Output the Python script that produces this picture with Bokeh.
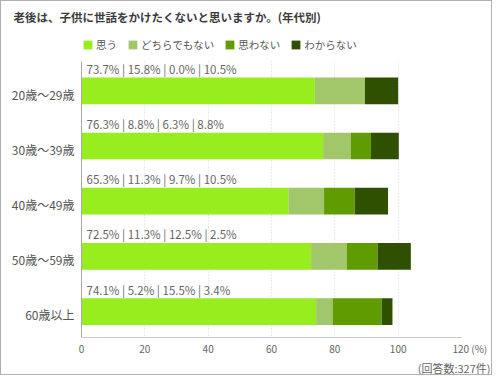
from bokeh.plotting import figure
from bokeh.models import ColumnDataSource, Range1d, FixedTicker, Legend, LegendItem, Title
from bokeh.core.properties import value
from bokeh.embed import file_html
from bokeh.resources import INLINE

# ---- data ----
title_text = "老後は、子供に世話をかけたくないと思いますか。(年代別)"
note_text = "(回答数:327件)"
unit_text = "(%)"
categories = ["20歳〜29歳", "30歳〜39歳", "40歳〜49歳", "50歳〜59歳", "60歳以上"]
series_names = ["思う", "どちらでもない", "思わない", "わからない"]
omou = [73.7, 76.3, 65.3, 72.5, 74.1]
dochira = [15.8, 8.8, 11.3, 11.3, 5.2]
omowanai = [0.0, 6.3, 9.7, 9.7, 15.5]
wakaranai = [10.5, 8.8, 10.5, 10.5, 3.4]
printed_labels = [
    "73.7% | 15.8% | 0.0% | 10.5%",
    "76.3% | 8.8% | 6.3% | 8.8%",
    "65.3% | 11.3% | 9.7% | 10.5%",
    "72.5% | 11.3% | 12.5% | 2.5%",
    "74.1% | 5.2% | 15.5% | 3.4%",
]
x_ticks = [0, 20, 40, 60, 80, 100, 120]
colors = ["#97ED1E", "#A2C66A", "#5E9C00", "#2F5000"]

FONT = "Noto Sans CJK JP"

# ---- layout (pixels, inside a 1px border) ----
W, H = 490, 367
FRAME_L, FRAME_W = 80, 380
FRAME_T, FRAME_B = 30, 335
CHART_T = 59
PX_PER_Y = 55.2
Y_TOP = -0.531                       # data value at the top of the bar area
Y_BOT = Y_TOP + (FRAME_B - CHART_T) / PX_PER_Y
Y_FRAME_TOP = Y_TOP - (CHART_T - FRAME_T) / PX_PER_Y

ypos = list(range(len(categories)))
series = [omou, dochira, omowanai, wakaranai]
lefts, rights = [], []
acc = [0.0] * len(categories)
for s in series:
    lefts.append(list(acc))
    acc = [a + v for a, v in zip(acc, s)]
    rights.append(list(acc))

p = figure(
    frame_width=FRAME_W, frame_height=FRAME_B - FRAME_T,
    min_border_left=FRAME_L, min_border_right=W - FRAME_L - FRAME_W,
    min_border_top=FRAME_T, min_border_bottom=H - FRAME_B,
    x_range=Range1d(0, 120), y_range=Range1d(Y_BOT, Y_FRAME_TOP),
    output_backend="svg", toolbar_location=None,
)
p.outline_line_color = None
p.background_fill_color = "white"
p.border_fill_color = "white"
p.styles = {"border": "1px solid #b0b0b0"}

# title
p.title.text = title_text
p.title.align = "left"
p.title.offset = 12 - FRAME_L
p.title.vertical_align = "middle"
p.title.standoff = 13
p.title.text_font = FONT
p.title.text_font_size = "11.5px"
p.title.text_font_style = "bold"
p.title.text_color = "#3c3c3c"

renderers = []
for i, name in enumerate(series_names):
    src = ColumnDataSource(dict(y=ypos, left=lefts[i], right=rights[i]))
    r = p.hbar(y="y", left="left", right="right", height=0.484, source=src,
               fill_color=colors[i], line_color=None)
    renderers.append(r)

# value labels above the bars
lab_src = ColumnDataSource(dict(x=[0] * len(categories),
                                y=[y - 22 / PX_PER_Y for y in ypos],
                                t=printed_labels))
p.text(x="x", y="y", text="t", source=lab_src, x_offset=5,
       text_font=value(FONT), text_font_size="11.5px", text_color="#666666",
       text_baseline="middle", text_align="left")

# x axis
p.xaxis.ticker = FixedTicker(ticks=x_ticks)
p.xaxis.major_label_overrides = {x_ticks[-1]: "\u2007\u2007\u2007%d %s" % (x_ticks[-1], unit_text)}
p.xaxis.axis_line_color = "#c8c8c8"
p.xaxis.major_tick_line_color = None
p.xaxis.major_tick_out = 0
p.xaxis.major_tick_in = 0
p.xaxis.minor_tick_line_color = None
p.xaxis.major_label_standoff = 3
p.xaxis.major_label_text_font = FONT
p.xaxis.major_label_text_font_size = "10px"
p.xaxis.major_label_text_color = "#666666"

# y axis (categories)
yt = [y + 0.06 for y in ypos]
p.yaxis.ticker = FixedTicker(ticks=yt)
p.yaxis.major_label_overrides = {t: c for t, c in zip(yt, categories)}
p.yaxis.bounds = (Y_TOP, Y_BOT)
p.yaxis.axis_line_color = "#a8a8a8"
p.yaxis.major_tick_line_color = None
p.yaxis.major_tick_out = 0
p.yaxis.major_tick_in = 0
p.yaxis.minor_tick_line_color = None
p.yaxis.major_label_standoff = 7
p.yaxis.major_label_text_font = FONT
p.yaxis.major_label_text_font_size = "12px"
p.yaxis.major_label_text_color = "#555555"

p.ygrid.grid_line_color = None
p.xgrid.grid_line_color = "#d6d6d6"
p.xgrid.grid_line_dash = "1 2"
p.xgrid.cross_bounds = (Y_TOP, Y_BOT)

legend = Legend(
    items=[LegendItem(label=n, renderers=[r]) for n, r in zip(series_names, renderers)],
    orientation="horizontal", location=(1, 285),
    padding=0, margin=0, spacing=10,
    glyph_width=11, glyph_height=11, label_standoff=3, label_height=11,
    label_text_font=FONT, label_text_font_size="10.5px", label_text_color="#555555",
    border_line_color=None, background_fill_alpha=0,
)
p.add_layout(legend, "center")

note = Title(text=note_text, align="right", offset=-29, standoff=-2,
             vertical_align="bottom", text_font=FONT, text_font_size="11px",
             text_font_style="normal", text_color="#666666")
p.add_layout(note, "below")

open("out.html", "w").write(file_html(p, INLINE))
